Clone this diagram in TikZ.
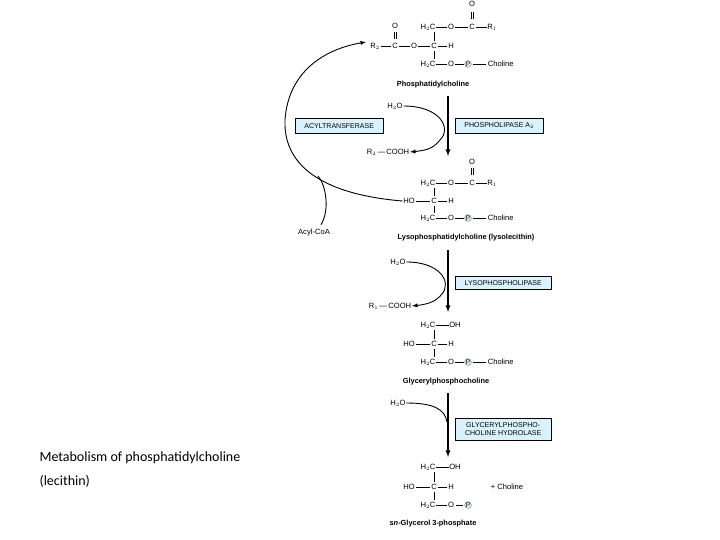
\documentclass[tikz,border=0pt]{standalone}
\usepackage{fontspec}
\setmainfont{Liberation Sans}
\newfontfamily\calib{Carlito}
\begin{document}
\begin{tikzpicture}[x=1pt,y=-1pt,
 a/.style={inner sep=0.6pt,font=\fontsize{7.6}{8}\selectfont},
 pc/.style={circle,draw=black!70,fill=cyan!15,inner sep=0.2pt,line width=0.3pt,font=\fontsize{6.5}{7}\selectfont},
 enz/.style={draw=black,fill=cyan!15,line width=0.4pt,inner sep=2pt,font=\fontsize{7}{7.8}\selectfont,align=center,anchor=north west},
 lab/.style={font=\bfseries\fontsize{7.4}{8}\selectfont},
 b/.style={line width=0.5pt,shorten <=1.5pt,shorten >=1.5pt},
 big/.style={line width=1.3pt,-latex},
 cur/.style={line width=0.9pt,-latex}]
\fill[white] (0,0) rectangle (720,540);
\useasboundingbox (0,0) rectangle (720,540);
\newcommand\dbl[2]{\draw[line width=0.5pt] (#1-0.9,#2-3.5)--(#1-0.9,#2+3.5) (#1+0.9,#2-3.5)--(#1+0.9,#2+3.5);}
% Phosphatidylcholine
\node[a] (o1) at (472,4) {O}; \dbl{472}{16}
\node[a] (h1) at (428,27) {H$_2$C}; \node[a] (oa) at (451,27) {O}; \node[a] (c1) at (472,27) {C}; \node[a] (r1) at (492,27) {R$_1$};
\node[a] (o2) at (395,26) {O}; \dbl{395}{36}
\node[a] (r2) at (375,46) {R$_2$}; \node[a] (c2) at (395,46) {C}; \node[a] (ob) at (414,46) {O}; \node[a] (c3) at (434,46) {C}; \node[a] (hh) at (451,46) {H};
\node[a] (h3) at (428,64) {H$_2$C}; \node[a] (oc) at (451,64) {O}; \node[pc] (p1) at (468,64) {P}; \node[a,anchor=west] (ch1) at (487,64) {Choline};
\draw[b] (h1)--(oa) (oa)--(c1) (c1)--(r1) (r2)--(c2) (c2)--(ob) (ob)--(c3) (c3)--(hh) (h3)--(oc) (oc)--(p1) (p1)--(ch1);
\draw[line width=0.5pt] (434,32)--(434,41) (434,51)--(434,59);
\node[lab] (l1) at (433,85) {Phosphatidylcholine};
% step 1
\draw[big] (448,96)--(448,156);
\node[a] (w1) at (395,106) {H$_2$O}; \node[a] (rc2) at (388,152) {R$_2$\,---\,COOH};
\draw[cur] (w1.east) .. controls (440,106) and (452,128) .. (440,140) .. controls (434,147) and (430,150) .. (rc2.east);
\node[enz,minimum width=88pt,minimum height=15pt] (e1) at (455,118) {PHOSPHOLIPASE A$_2$};
\node[enz,minimum width=88pt,minimum height=15pt] (e0) at (295,118) {ACYLTRANSFERASE};
% Lyso
\node[a] (o3) at (472,162) {O}; \dbl{472}{172}
\node[a] (h4) at (428,183) {H$_2$C}; \node[a] (od) at (451,183) {O}; \node[a] (c4) at (472,183) {C}; \node[a] (r3) at (492,183) {R$_1$};
\node[a] (ho1) at (409,201) {HO}; \node[a] (c5) at (434,201) {C}; \node[a] (hh2) at (451,201) {H};
\node[a] (h5) at (428,218) {H$_2$C}; \node[a] (oe) at (451,218) {O}; \node[pc] (p2) at (468,218) {P}; \node[a,anchor=west] (ch2) at (487,218) {Choline};
\draw[b] (h4)--(od) (od)--(c4) (c4)--(r3) (ho1)--(c5) (c5)--(hh2) (h5)--(oe) (oe)--(p2) (p2)--(ch2);
\draw[line width=0.5pt] (434,188)--(434,196) (434,206)--(434,213);
\node[lab] (l2) at (466,238) {Lysophosphatidylcholine (lysolecithin)};
\node[a] (acoa) at (314,233) {Acyl-CoA};
\draw[cur] (ho1.west) .. controls (330,195) and (283,170) .. (285,120) .. controls (288,75) and (320,50) .. (366,42);
\draw[line width=0.9pt] (acoa.north)++(7,-4) .. controls (330,210) and (326,185) .. (318,176);
% step 2
\draw[big] (448,250)--(448,312);
\node[a] (w2) at (398,262) {H$_2$O}; \node[a] (rc1) at (390,306) {R$_1$\,---\,COOH};
\draw[cur] (w2.east) .. controls (440,262) and (452,282) .. (442,294) .. controls (436,301) and (430,304) .. (rc1.east);
\node[enz,minimum width=96pt,minimum height=13pt] (e2) at (455,276) {LYSOPHOSPHOLIPASE};
% Glyceryl
\node[a] (h6) at (428,325) {H$_2$C}; \node[a] (oh1) at (455,325) {OH};
\node[a] (ho2) at (409,344) {HO}; \node[a] (c6) at (434,344) {C}; \node[a] (hh3) at (451,344) {H};
\node[a] (h7) at (428,362) {H$_2$C}; \node[a] (of) at (451,362) {O}; \node[pc] (p3) at (468,362) {P}; \node[a,anchor=west] (ch3) at (487,362) {Choline};
\draw[b] (h6)--(oh1) (ho2)--(c6) (c6)--(hh3) (h7)--(of) (of)--(p3) (p3)--(ch3);
\draw[line width=0.5pt] (434,330)--(434,339) (434,349)--(434,357);
\node[lab] (l3) at (446,382) {Glycerylphosphocholine};
% step 3
\draw[big] (448,393)--(448,457);
\node[a] (w3) at (398,403) {H$_2$O};
\draw[line width=0.9pt] (w3.east) .. controls (435,403) and (445,410) .. (447,422);
\node[enz,minimum width=96pt,minimum height=22pt] (e3) at (455,418) {GLYCERYLPHOSPHO-\\CHOLINE HYDROLASE};
% G3P
\node[a] (h8) at (428,467) {H$_2$C}; \node[a] (oh2) at (455,467) {OH};
\node[a] (ho3) at (409,487) {HO}; \node[a] (c7) at (434,487) {C}; \node[a] (hh4) at (451,487) {H};
\node[a] (h9) at (428,505) {H$_2$C}; \node[a] (og) at (451,505) {O}; \node[pc] (p4) at (468,505) {P};
\draw[b] (h8)--(oh2) (ho3)--(c7) (c7)--(hh4) (h9)--(og) (og)--(p4);
\draw[line width=0.5pt] (434,472)--(434,482) (434,492)--(434,500);
\node[a] (pch) at (507,487) {+ Choline};
\node[lab] (l4) at (433,524) {\textit{sn}-Glycerol 3-phosphate};
\node[anchor=west,align=left,font=\calib\fontsize{14}{24}\selectfont] (cap) at (36,470) {Metabolism of phosphatidylcholine\\(lecithin)};
\end{tikzpicture}
\end{document}
